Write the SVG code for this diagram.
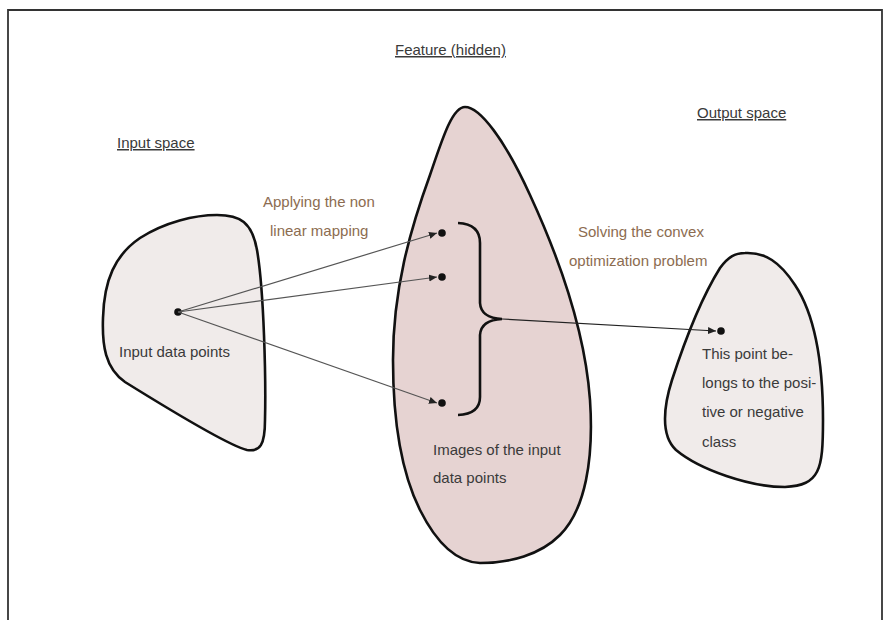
<svg xmlns="http://www.w3.org/2000/svg" width="888" height="620" viewBox="0 0 888 620">
<style>
.t{font-family:"Liberation Sans",Arial,sans-serif;font-size:15px;fill:#3a3a3a}
.h{text-decoration:underline}
.b{fill:#8c6c50}
.blob{stroke:#111;stroke-width:2.6;stroke-linejoin:round}
.arr{stroke:#555;stroke-width:1.2;fill:none;marker-end:url(#ah)}
.dot{fill:#111}
</style>
<defs>
<marker id="ah" markerUnits="userSpaceOnUse" markerWidth="9" markerHeight="8" refX="8" refY="4" orient="auto">
<path d="M0,0.5 L8,4 L0,7.5 Z" fill="#222"/>
</marker>
</defs>
<rect x="0" y="0" width="888" height="620" fill="#fff"/>
<path d="M8,624 L8,10 L882,10 L882,624" fill="none" stroke="#333" stroke-width="1.8"/>
<text class="t h" x="395" y="55">Feature (hidden)</text>
<text class="t h" x="117" y="148">Input space</text>
<text class="t h" x="697" y="118">Output space</text>
<g id="input-space">
<path class="blob" fill="#f0ebea" d="M217,215 C240,215 252,222 257,250 C264,290 266,380 265,420 C265,445 260,452 247,450 C230,446 170,410 125,382 C105,368 102,345 103,318 C104,280 115,255 140,238 C165,222 195,215 217,215 Z"/>
<circle class="dot" cx="178" cy="312" r="3.8"/>
<text class="t" x="119" y="357">Input data points</text>
</g>
<g id="feature-space">
<path class="blob" fill="#e6d3d2" d="M465,107 C480,107 505,140 530,195 C560,260 585,330 590,400 C594,460 585,510 560,535 C540,555 510,563 480,563 C455,562 435,540 420,510 C400,470 393,420 393,360 C393,290 410,230 430,175 C442,140 452,107 465,107 Z"/>
<circle class="dot" cx="442" cy="233" r="3.8"/>
<circle class="dot" cx="442" cy="277" r="3.8"/>
<circle class="dot" cx="442" cy="403" r="3.8"/>
<path d="M458,223 Q480,224 480,243 L480,303 Q481,318 502,319 Q481,320 480,335 L480,397 Q480,414 458,415" fill="none" stroke="#111" stroke-width="2.6"/>
<text class="t" x="433" y="455">Images of the input</text>
<text class="t" x="433" y="483">data points</text>
</g>
<g id="output-space">
<path class="blob" fill="#f0ebea" d="M745,253 C765,252 780,262 795,285 C815,315 823,360 823,420 C823,470 820,485 785,487 C750,487 700,470 676,450 C660,435 664,405 672,380 C685,340 700,300 720,268 C728,257 735,253 745,253 Z"/>
<circle class="dot" cx="721" cy="331" r="3.8"/>
<text class="t" x="702" y="359">This point be-</text>
<text class="t" x="702" y="388">longs to the posi-</text>
<text class="t" x="702" y="417">tive or negative</text>
<text class="t" x="702" y="447">class</text>
</g>
<g id="connectors">
<line class="arr" x1="178" y1="312" x2="437" y2="233"/>
<line class="arr" x1="178" y1="312" x2="437" y2="277"/>
<line class="arr" x1="178" y1="312" x2="437" y2="403"/>
<line class="arr" x1="502" y1="319" x2="716" y2="331" style="stroke:#222"/>
<text class="t b" x="263" y="207">Applying the non</text>
<text class="t b" x="270" y="236">linear mapping</text>
<text class="t b" x="578" y="237">Solving the convex</text>
<text class="t b" x="569" y="266">optimization problem</text>
</g>
</svg>
